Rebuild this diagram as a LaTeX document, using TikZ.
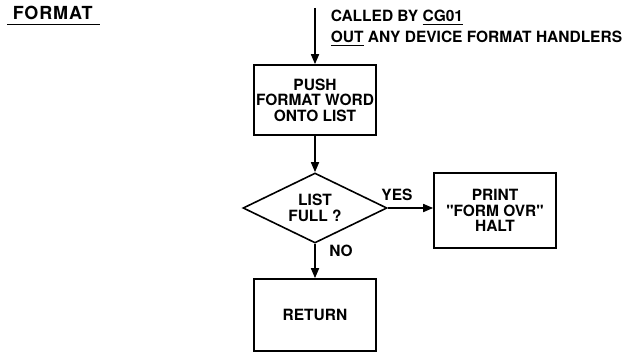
\documentclass[tikz,border=0pt]{standalone}
\usepackage{fontspec}
\setmainfont{TeX Gyre Heros}[Ligatures=TeXOff]
\usetikzlibrary{arrows.meta,shapes.geometric}
\newcommand\ulx[1]{\leavevmode\vtop{\hbox{#1}\kern1.8pt\hrule height 1.4pt}}
\begin{document}
\begin{tikzpicture}[x=1pt,y=-1pt,
  line width=1.6pt,
  every node/.style={font=\fontsize{15.5}{15.5}\selectfont\bfseries, inner sep=0pt},
  procbox/.style={draw, minimum width=122pt, minimum height=70pt, align=center},
  decision/.style={draw, diamond, aspect=2, minimum width=144pt, minimum height=70pt, align=center},
  arr/.style={-{Triangle[width=8pt,length=10pt]}},
  lbl/.style={anchor=base west},
]
\path[use as bounding box] (0,0) rectangle (630,353);
% title
\node[lbl, font=\fontsize{18}{20}\selectfont\bfseries\addfontfeature{LetterSpace=5}] (title) at (12,20) {FORMAT};
\coordinate (tl) at (7,24.5);
\coordinate (tr) at (100,24.5);
\draw[line width=1.4pt] (tl) -- (tr);
% entry
\coordinate (in) at (315,8);
\node[lbl] (called) at (330,22) {CALLED BY \ulx{CG01}};
\node[lbl] (out) at (330,43) {\ulx{OUT} ANY DEVICE FORMAT HANDLERS};
% boxes
\node[procbox] (push) at (315,100) {PUSH\\FORMAT WORD\\ONTO LIST};
\node[decision] (full) at (315,208) {LIST\\FULL ?};
\node[procbox, minimum height=75pt] (print) at (495,210.5) {PRINT\\"FORM OVR"\\HALT};
\node[procbox, minimum height=72pt] (ret) at (315,315) {RETURN};
% labels
\node (yes) at (397,194.5) {YES};
\node (no) at (341,251) {NO};
% connectors
\draw[arr] (in) -- (push.north);
\draw[arr] (push.south) -- (full.north);
\draw[arr] (full.east) -- (full.east -| print.west);
\draw[arr] (full.south) -- (ret.north);
\end{tikzpicture}
\end{document}
